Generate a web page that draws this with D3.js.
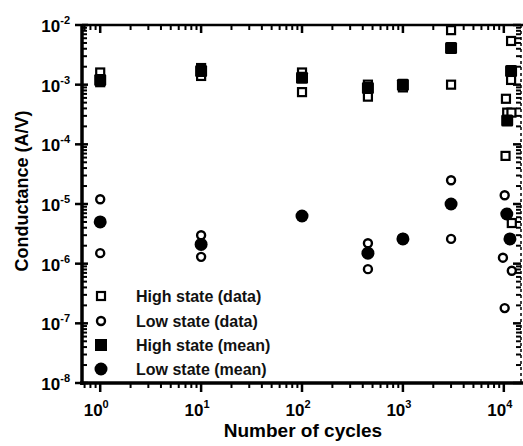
<!DOCTYPE html>
<html>
<head>
<meta charset="utf-8">
<script src="https://cdn.jsdelivr.net/npm/d3@7"></script>
<style>
  body { margin: 0; background: #fff; }
  svg { display: block; font-family: "Liberation Sans", Arial, sans-serif; }
</style>
</head>
<body>
<svg id="chart" width="523" height="446"></svg>
<script>
// cycles / conductance (A/V)
const highData = [
  [1, 1.6e-3], [1, 1.1e-3],
  [10, 1.9e-3], [10, 1.4e-3],
  [100, 1.6e-3], [100, 7.5e-4],
  [450, 1.0e-3], [450, 6.3e-4],
  [1000, 1.0e-3], [1000, 9.0e-4],
  [3000, 8.2e-3], [3000, 1.0e-3],
  [11800, 5.4e-3], [11800, 1.2e-3], [10500, 5.8e-4],
  [10800, 3.4e-4], [11900, 3.4e-4], [10400, 6.4e-5], [12000, 4.8e-6]
];
const lowData = [
  [1, 1.2e-5], [1, 1.5e-6],
  [10, 3.0e-6], [10, 1.3e-6],
  [100, 6.5e-6], [100, 6.1e-6],
  [450, 2.2e-6], [450, 8.1e-7],
  [1000, 2.7e-6], [1000, 2.5e-6],
  [3000, 2.5e-5], [3000, 2.6e-6],
  [10200, 1.4e-5], [9800, 1.26e-6], [12000, 7.6e-7], [10200, 1.8e-7]
];
const highMean = [
  [1, 1.2e-3], [10, 1.7e-3], [100, 1.3e-3], [450, 8.8e-4],
  [1000, 1.0e-3], [3000, 4.1e-3], [11800, 1.7e-3], [10800, 2.5e-4]
];
const lowMean = [
  [1, 5.0e-6], [10, 2.1e-6], [100, 6.3e-6], [450, 1.5e-6],
  [1000, 2.6e-6], [3000, 1.0e-5], [10700, 6.8e-6], [11500, 2.6e-6]
];
const xTicks = [1, 10, 100, 1000, 10000];
const yTicks = [1e-8, 1e-7, 1e-6, 1e-5, 1e-4, 1e-3, 1e-2];
const legendLabels = ['High state (data)', 'Low state (data)', 'High state (mean)', 'Low state (mean)'];

const svg = d3.select('#chart');
const x = d3.scaleLog().domain([0.66, 14800]).range([82, 521]);
const y = d3.scaleLog().domain([1e-8, 1e-2]).range([383, 25]);

// minor ticks for log axes
function minors(lo, hi) {
  const out = [];
  for (let e = lo; e < hi; e++) for (let k = 2; k < 10; k++) out.push(k * Math.pow(10, e));
  return out;
}
const xMinor = minors(-1, 5).filter(v => v >= 0.66 && v <= 14800);
const yMinor = minors(-8, -2);

const g = svg.append('g');

// bottom axis (ticks outward)
g.selectAll('line.xb').data(xMinor).enter().append('line')
  .attr('x1', d => x(d)).attr('x2', d => x(d)).attr('y1', 383).attr('y2', 388)
  .attr('stroke', '#000').attr('stroke-width', 2);
g.selectAll('line.xbM').data(xTicks).enter().append('line')
  .attr('x1', d => x(d)).attr('x2', d => x(d)).attr('y1', 383).attr('y2', 392)
  .attr('stroke', '#000').attr('stroke-width', 2.5);
// top axis (ticks inward)
g.selectAll('line.xt').data(xMinor).enter().append('line')
  .attr('x1', d => x(d)).attr('x2', d => x(d)).attr('y1', 25).attr('y2', 30)
  .attr('stroke', '#000').attr('stroke-width', 2);
g.selectAll('line.xtM').data(xTicks).enter().append('line')
  .attr('x1', d => x(d)).attr('x2', d => x(d)).attr('y1', 25).attr('y2', 33)
  .attr('stroke', '#000').attr('stroke-width', 2.5);
// left axis
g.selectAll('line.yl').data(yMinor).enter().append('line')
  .attr('x1', 82).attr('x2', 87).attr('y1', d => y(d)).attr('y2', d => y(d))
  .attr('stroke', '#000').attr('stroke-width', 2);
g.selectAll('line.ylM').data(yTicks).enter().append('line')
  .attr('x1', 75).attr('x2', 88).attr('y1', d => y(d)).attr('y2', d => y(d))
  .attr('stroke', '#000').attr('stroke-width', 2.5);
// right axis
g.selectAll('line.yr').data(yMinor).enter().append('line')
  .attr('x1', 516).attr('x2', 521).attr('y1', d => y(d)).attr('y2', d => y(d))
  .attr('stroke', '#000').attr('stroke-width', 2);
g.selectAll('line.yrM').data(yTicks).enter().append('line')
  .attr('x1', 513).attr('x2', 521).attr('y1', d => y(d)).attr('y2', d => y(d))
  .attr('stroke', '#000').attr('stroke-width', 2.5);

// frame
g.append('line').attr('x1', 82).attr('x2', 82).attr('y1', 24).attr('y2', 385)
  .attr('stroke', '#000').attr('stroke-width', 3.5);
g.append('line').attr('x1', 80).attr('x2', 523).attr('y1', 383).attr('y2', 383)
  .attr('stroke', '#000').attr('stroke-width', 3.5);
g.append('line').attr('x1', 82).attr('x2', 523).attr('y1', 25).attr('y2', 25)
  .attr('stroke', '#000').attr('stroke-width', 2.5);
g.append('line').attr('x1', 521).attr('x2', 521).attr('y1', 25).attr('y2', 383)
  .attr('stroke', '#000').attr('stroke-width', 1.5).attr('stroke-dasharray', '3,3');

// tick labels
const exp = v => Math.round(Math.log10(v));
const yl = svg.selectAll('text.yl').data(yTicks).enter().append('text')
  .attr('x', 70).attr('y', d => y(d) + 7)
  .attr('text-anchor', 'end').attr('font-weight', 'bold').attr('font-size', 17);
yl.append('tspan').text('10');
yl.append('tspan').attr('dy', -8).attr('font-size', 11).text(d => exp(d));

const xl = svg.selectAll('text.xl').data(xTicks).enter().append('text')
  .attr('x', d => x(d) - 4).attr('y', d => 416)
  .attr('text-anchor', 'middle').attr('font-weight', 'bold').attr('font-size', 17);
xl.append('tspan').text('10');
xl.append('tspan').attr('dy', -8).attr('font-size', 11).text(d => exp(d));

// axis titles
svg.append('text').attr('x', 303).attr('y', 437).attr('text-anchor', 'middle')
  .attr('font-weight', 'bold').attr('font-size', 19).text('Number of cycles');
svg.append('text').attr('transform', 'translate(28,191) rotate(-90)').attr('text-anchor', 'middle')
  .attr('font-weight', 'bold').attr('font-size', 18).text('Conductance (A/V)');

// markers
function drawOpenSquares(data) {
  svg.append('g').selectAll('rect').data(data).enter().append('rect')
    .attr('x', d => x(d[0]) - 4).attr('y', d => y(d[1]) - 4)
    .attr('width', 8).attr('height', 8)
    .attr('fill', '#fff').attr('stroke', '#000').attr('stroke-width', 2.2);
}
function drawOpenCircles(data) {
  svg.append('g').selectAll('circle').data(data).enter().append('circle')
    .attr('cx', d => x(d[0])).attr('cy', d => y(d[1])).attr('r', 4)
    .attr('fill', '#fff').attr('stroke', '#000').attr('stroke-width', 2.4);
}
function drawFilledSquares(data) {
  svg.append('g').selectAll('rect').data(data).enter().append('rect')
    .attr('x', d => x(d[0]) - 6).attr('y', d => y(d[1]) - 6)
    .attr('width', 12).attr('height', 12).attr('rx', 1.5).attr('fill', '#000');
}
function drawFilledCircles(data) {
  svg.append('g').selectAll('circle').data(data).enter().append('circle')
    .attr('cx', d => x(d[0])).attr('cy', d => y(d[1])).attr('r', 6.5).attr('fill', '#000');
}
drawOpenSquares(highData);
drawOpenCircles(lowData);
drawFilledSquares(highMean);
drawFilledCircles(lowMean);

// legend
const legY = [296, 321, 345, 369];
const leg = svg.append('g');
leg.append('rect').attr('x', 97).attr('y', legY[0] - 4).attr('width', 8).attr('height', 8)
  .attr('fill', '#fff').attr('stroke', '#000').attr('stroke-width', 2.2);
leg.append('circle').attr('cx', 101).attr('cy', legY[1]).attr('r', 4)
  .attr('fill', '#fff').attr('stroke', '#000').attr('stroke-width', 2.4);
leg.append('rect').attr('x', 95).attr('y', legY[2] - 6).attr('width', 12).attr('height', 12).attr('fill', '#000');
leg.append('circle').attr('cx', 101).attr('cy', legY[3]).attr('r', 6.5).attr('fill', '#000');
leg.selectAll('text').data(legendLabels).enter().append('text')
  .attr('x', 136).attr('y', (d, i) => legY[i] + 6)
  .attr('font-size', 16).attr('font-weight', 'bold').attr('fill', '#111')
  .text(d => d);
</script>
</body>
</html>
